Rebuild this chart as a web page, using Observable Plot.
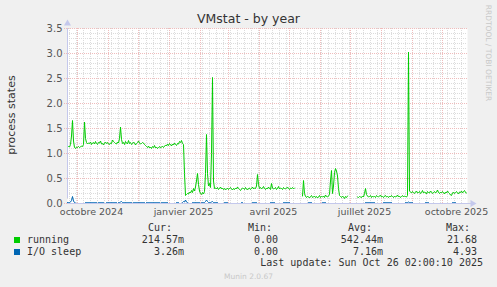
<!DOCTYPE html>
<html><head><meta charset="utf-8">
<script src="https://cdn.jsdelivr.net/npm/d3@7"></script>
<script src="https://cdn.jsdelivr.net/npm/@observablehq/plot@0.6"></script>
<style>
html,body{margin:0;padding:0;background:#f0f0f0;}
#wrap{position:relative;width:497px;height:287px;overflow:hidden;background:#f0f0f0;font-family:"DejaVu Sans",sans-serif;}
#wrap svg{position:absolute;left:0;top:0;}
.t{position:absolute;white-space:pre;line-height:1;}
.mono{font-family:"DejaVu Sans Mono",monospace;font-size:10px;color:#333;}
</style></head>
<body><div id="wrap"></div>
<script>
// ---- data ----
const startDay = "2024-09-21";   // first daily sample
const endDay = "2025-10-26";     // last update
const seriesNames = ["running", "I/O sleep"];
const seriesColors = ["#00cc00", "#0066b3"];
const running = [
  1.12,1.14,1.13,1.18,1.35,1.66,1.25,1.12,1.10,1.13,1.12,1.14,1.12,1.13,1.15,1.14,1.18,1.63,1.30,
  1.22,1.19,1.21,1.20,1.23,1.18,1.21,1.22,1.19,1.24,1.20,1.18,1.22,1.21,1.25,1.19,1.20,1.17,1.21,1.23,
  1.20,1.22,1.19,1.18,1.21,1.20,1.27,1.24,1.22,1.20,1.19,1.23,1.21,1.30,
  1.53,1.28,
  1.20,1.22,1.18,1.24,1.21,1.19,1.26,1.20,1.22,1.18,1.20,1.23,1.21,1.17,1.20,1.22,1.25,1.21,1.19,1.20,
  1.22,1.21,1.18,1.16,1.14,
  1.12,1.15,1.11,1.13,1.10,1.14,1.12,1.16,1.11,1.13,1.10,1.12,1.14,1.11,1.13,1.15,1.12,1.14,
  1.17,1.15,1.19,1.16,1.20,1.18,1.15,1.19,1.17,1.21,1.18,1.16,1.20,1.19,1.24,1.22,1.26,1.20,
  1.18,0.60,0.16,
  0.18,0.20,0.19,0.23,0.21,0.26,0.22,0.30,0.25,0.33,
  0.45,0.60,0.38,0.25,
  0.20,0.18,0.22,0.19,0.24,
  0.60,1.38,0.60,0.35,0.40,0.32,1.00,2.52,0.45,0.30,
  0.31,0.29,0.32,0.28,0.30,0.33,0.29,0.31,0.28,0.30,0.27,0.29,0.31,0.28,0.30,0.32,0.29,0.27,0.30,0.28,
  0.31,0.29,0.33,0.30,0.28,0.26,0.29,0.31,0.30,0.28,0.32,0.29,0.27,0.30,0.31,0.28,0.30,0.33,0.29,0.31,
  0.30,0.35,
  0.58,0.38,
  0.30,0.32,0.29,0.31,0.34,0.30,0.28,0.31,0.29,0.33,0.30,0.28,0.40,0.31,0.29,0.30,0.32,0.28,0.30,0.34,
  0.29,0.31,0.30,0.28,0.32,0.30,0.29,0.31,0.33,0.30,0.28,0.31,0.30,0.32,0.29,0.31,
  null,null,null,null,null,null,null,
  0.15,0.46,0.20,
  0.14,0.12,0.15,0.13,0.11,0.14,0.16,0.12,0.13,0.15,0.12,0.14,0.11,0.13,0.16,0.12,0.14,0.13,0.15,0.12,
  0.17,0.14,0.13,0.15,0.18,
  0.45,0.66,0.20,0.35,0.62,0.70,0.65,0.55,0.30,0.16,
  0.14,0.12,0.15,0.13,0.10,0.14,0.12,0.15,
  null,null,null,null,null,null,null,null,null,
  0.13,0.12,0.14,0.13,0.12,0.15,0.13,0.20,0.30,0.18,
  0.15,0.13,0.14,0.16,0.12,0.15,0.13,0.14,0.12,0.16,0.14,0.13,0.15,0.17,0.13,0.14,0.12,0.15,0.16,0.13,
  0.14,0.12,0.15,0.13,0.16,0.14,0.12,0.15,0.13,0.14,0.17,0.13,0.15,0.12,0.14,0.16,0.13,0.15,0.14,0.13,
  0.16,
  3.03,0.25,
  0.23,0.21,0.24,0.22,0.20,0.23,0.25,0.21,0.22,0.24,0.20,0.22,0.26,0.21,0.23,0.22,0.19,0.24,0.22,0.21,
  0.25,0.23,0.20,0.22,0.24,0.21,0.23,0.27,0.22,0.20,0.23,0.21,0.24,0.22,0.19,0.23,0.21,0.25,0.22,0.20,
  0.17,0.16,0.21,0.23,0.20,0.22,0.24,0.21,0.19,0.23,0.22,0.25,0.21,0.24,0.26,0.22,0.21
];
const ioSleep = [
  0.02,0.02,0.02,0.03,0.06,0.14,0.05,0.02,0.01,0,0,0,0,0,0,0,0,0,0.02,0.02,
  0.02,0.02,0.02,0.02,0.02,0.02,0.02,0.02,0.02,0.02,0,0.02,0.02,0.02,0.02,0.02,0.02,0,0,0.02,
  0.02,0.02,0.02,0.02,0.02,0.02,0.02,0.02,0.02,0.02,0,0.02,0.02,0.03,0.04,0.02,0.02,0.02,0.02,0.02,
  0.02,0.02,0.02,0.02,0.02,0,0.02,0.02,0.02,0.02,0.02,0.02,0.02,0.02,0.02,0.02,0.02,0.02,0,0.02,
  0.02,0.02,0.02,0.02,0.02,0.02,0.02,0.02,0.02,0.02,0.02,0.02,0.02,0,0.02,0.02,0.02,0.02,0.02,0.02,
  0.02,0,0,0,0,0,0,0,0,0.02,0.02,0.02,0,0,0,0.02,0.04,0.03,0.07,0.03,
  0.02,0,0,0,0,0.02,0.02,0.02,0.02,0.02,0.02,0.02,0.02,0,0.02,0.02,0.02,0.02,0.04,0.07,
  0.04,0.02,0.02,0.02,0.03,0.04,0.02,0.02,0.02,0.02,0.02,0,0,0,0,0,0,0.02,0.02,0.02,
  0.02,0,0,0,0,0,0,0,0,0,0,0,0,0,0.02,0.02,0,0,0,0,
  0,0,0,0,0,0.02,0.02,0.02,0.02,0.02,0,0,0,0,0,0,0,0,0,0,
  0,0,0,0.02,0.02,0.02,0.02,0.02,0,0,0,0,0,0,0,0,0.02,0.02,0.02,0.02,
  0.02,0.02,0.02,0,0,0,0,0,0,0,0,0,0,0,0,0,0,0,0,0,
  0,0.02,0.02,0.02,0.02,0,0,0,0,0,0,0,0,0,0,0.02,0.02,0.02,0.02,0,
  0,0,0,0,0,0,0,0,0,0,0,0,0,0,0,0,0,0,0,0,
  0,0,0,0,0,0,0,0,0,0,0,0,0,0,0,0,0,0,0.02,0.02,
  0.02,0.02,0.02,0.02,0.02,0.02,0.02,0.02,0,0,0,0,0,0,0,0,0.02,0.02,0.02,0.02,
  0.02,0.02,0.02,0.02,0.02,0,0,0,0,0,0,0,0,0,0,0,0,0,0.02,0.02,
  0.02,0.03,0.02,0.02,0.02,0.02,0,0,0,0,0,0,0,0,0,0,0,0,0.02,0.02,
  0.02,0.02,0,0,0,0,0,0,0,0,0,0,0,0,0,0,0,0,0,0,
  0,0,0,0,0,0.02,0.02,0.02,0.02,0,0,0,0,0,0,0,0,0,0,0
];
const yTicks = [0, 0.5, 1, 1.5, 2, 2.5, 3, 3.5];
const xTickDates = ["2024-10-15", "2025-01-15", "2025-04-15", "2025-07-15", "2025-10-15"];
const xTickLabels = ["octobre 2024", "janvier 2025", "avril 2025", "juillet 2025", "octobre 2025"];
const legendHeaders = ["Cur:", "Min:", "Avg:", "Max:"];
const legendValues = [
  ["214.57m", "0.00", "542.44m", "21.68"],
  ["3.26m", "0.00", "7.16m", "4.93"]
];
const titleText = "VMstat - by year";
const yLabel = "process states";
const lastUpdate = "Last update: Sun Oct 26 02:00:10 2025";
const footer = "Munin 2.0.67";
const sideText = "RRDTOOL / TOBI OETIKER";

// ---- build ----
const t0 = new Date(startDay + "T00:00:00Z");
const t1 = new Date(endDay + "T00:00:00Z");
const day = 864e5;
const rows = running.map((v, i) => ({date: new Date(+t0 + i * day), running: v, io: ioSleep[i]}));
const minorY = d3.range(0, 3.5001, 0.1).filter(v => Math.abs(v * 2 - Math.round(v * 2)) > 1e-6);
const weeks = d3.utcMonday.range(t0, t1);
const months = d3.utcMonth.range(t0, t1);
const tickDates = xTickDates.map(s => new Date(s + "T00:00:00Z"));
const axisCol = "#c4c8ec";
const minorCol = "#dcdcdc";
const majorCol = "#efbcbc";

const plot = Plot.plot({
  width: 497, height: 222,
  marginLeft: 67, marginRight: 30, marginTop: 28, marginBottom: 19,
  style: {background: "transparent", fontFamily: "DejaVu Sans", fontSize: "9.5px", color: "#555", overflow: "visible"},
  x: {type: "utc", domain: [t0, t1]},
  y: {domain: [0, 3.5]},
  marks: [
    Plot.frame({fill: "white", stroke: null}),
    Plot.ruleY(minorY, {stroke: minorCol, strokeDasharray: "1,1"}),
    Plot.ruleX(weeks, {stroke: minorCol, strokeDasharray: "1,1"}),
    Plot.ruleY(yTicks, {stroke: majorCol, strokeDasharray: "1,1", x1: t0, x2: t1, insetLeft: -3}),
    Plot.ruleX(months, {stroke: majorCol, strokeDasharray: "1,1"}),
    Plot.lineY(rows, {x: "date", y: "io", stroke: seriesColors[1], strokeWidth: 1}),
    Plot.lineY(rows, {x: "date", y: "running", stroke: seriesColors[0], strokeWidth: 1}),
    Plot.ruleY([0], {stroke: axisCol, x1: t0, x2: t1, insetRight: -5}),
    Plot.ruleX([t0], {stroke: axisCol, y1: 0, y2: 3.5, insetTop: -5}),
    Plot.dot([t0], {x: d => d, y: 3.5, symbol: "triangle", r: 2.6, fill: axisCol, stroke: null, dy: -5}),
    Plot.dot([t1], {x: d => d, y: 0, symbol: "triangle", r: 2.6, fill: axisCol, stroke: null, dx: 5, rotate: 90}),
    Plot.axisY({ticks: yTicks, tickFormat: d => d.toFixed(1), tickSize: 0, tickPadding: 5, fontSize: 10, label: null}),
    Plot.axisX({ticks: tickDates, tickFormat: (d, i) => xTickLabels[i], tickSize: 0, tickPadding: 5, fontSize: 9.5, label: null})
  ]
});
const wrap = document.getElementById("wrap");
wrap.appendChild(plot);

function addText(txt, css, cls) {
  const el = document.createElement("div");
  el.className = "t" + (cls ? " " + cls : "");
  el.textContent = txt;
  Object.assign(el.style, css);
  wrap.appendChild(el);
  return el;
}
addText(titleText, {left: "0px", width: "497px", textAlign: "center", top: "13px", fontSize: "12.5px", color: "#333"});
addText(yLabel, {left: "11px", top: "115px", fontSize: "11px", color: "#333", transform: "translate(-50%,-50%) rotate(-90deg)"});
addText(sideText, {left: "488px", top: "53px", fontSize: "7.5px", color: "#c8c8c8", transform: "translate(-50%,-50%) rotate(90deg)"});

// legend
const colRight = [172, 272, 372, 470];
const valRight = [184, 278, 383, 477];
legendHeaders.forEach((h, i) => addText(h, {right: (497 - colRight[i]) + "px", top: "223px"}, "mono"));
seriesNames.forEach((n, r) => {
  const y = 235 + r * 12;
  const sq = document.createElement("div");
  Object.assign(sq.style, {position: "absolute", left: "14px", top: (y + 2) + "px", width: "6px", height: "6px", background: seriesColors[r]});
  wrap.appendChild(sq);
  addText(n, {left: "27px", top: y + "px"}, "mono");
  legendValues[r].forEach((v, i) => addText(v, {right: (497 - valRight[i]) + "px", top: y + "px"}, "mono"));
});
addText(lastUpdate, {right: (497 - 483) + "px", top: "258px"}, "mono");
addText(footer, {left: "0px", width: "497px", textAlign: "center", top: "273px", fontSize: "7.5px", color: "#c8c8c8"});
</script></body></html>
